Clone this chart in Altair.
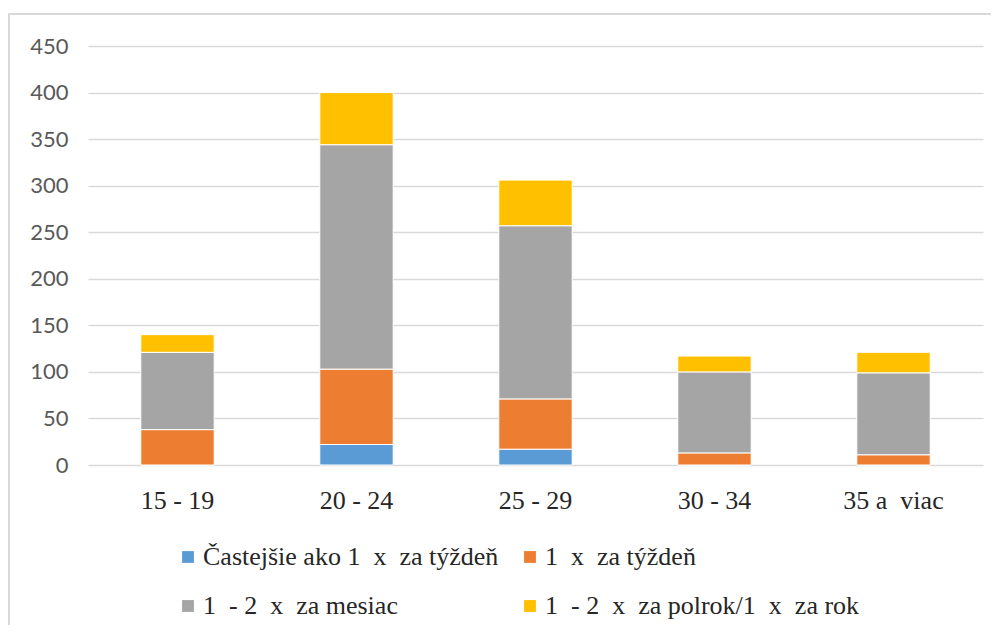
import altair as alt
import pandas as pd

NB = "\u00a0"
categories = ["15 - 19", "20 - 24", "25 - 29", "30 - 34", "35 a" + NB + " viac"]
series = ["Častejšie ako 1" + NB + " x" + NB + " za týždeň",
          "1" + NB + " x" + NB + " za týždeň",
          "1" + NB + " - 2" + NB + " x" + NB + " za mesiac",
          "1" + NB + " - 2" + NB + " x" + NB + " za polrok/1" + NB + " x" + NB + " za rok"]
colors = ["#5B9BD5", "#ED7D31", "#A5A5A5", "#FFC000"]
blue = [0, 22, 17, 0, 0]
orange = [38, 81, 54, 13, 11]
gray = [83, 241, 186, 87, 88]
yellow = [19, 56, 49, 17, 22]
y_ticks = [0, 50, 100, 150, 200, 250, 300, 350, 400, 450]

rows = []
for si, (name, vals) in enumerate(zip(series, [blue, orange, gray, yellow])):
    for c, v in zip(categories, vals):
        rows.append({"cat": c, "series": name, "value": v, "idx": si})
df = pd.DataFrame(rows)

bars = alt.Chart(df).mark_bar(stroke="white", strokeWidth=1).encode(
    x=alt.X("cat:N", sort=categories, title=None,
            scale=alt.Scale(paddingInner=0.59, paddingOuter=0.295),
            axis=alt.Axis(labelAngle=0, labelFont="Liberation Serif", labelFontSize=26,
                          labelColor="#262626", labelPadding=22, ticks=False, domain=False, grid=False)),
    y=alt.Y("value:Q", stack="zero", title=None,
            scale=alt.Scale(domain=[0, 450], nice=False),
            axis=alt.Axis(values=y_ticks, labelFont="Lato", labelFontSize=22, labelColor="#595959",
                          labelPadding=20, ticks=False, domain=False, grid=True,
                          gridColor="#d9d9d9", gridWidth=1.5)),
    color=alt.Color("series:N", sort=series,
                    scale=alt.Scale(domain=series, range=colors),
                    legend=alt.Legend(title=None, orient="none", legendX=87, legendY=498,
                                      columns=2, direction="horizontal", symbolType="square",
                                      symbolSize=140, symbolStrokeWidth=0, labelFont="Liberation Serif",
                                      labelFontSize=26, labelColor="#262626", labelLimit=500,
                                      rowPadding=23, columnPadding=18, labelOffset=2)),
    order=alt.Order("idx:Q", sort="ascending"),
)

border = alt.Chart(alt.Data(values=[{}])).mark_rect(
    filled=False, stroke="#d9d9d9", strokeWidth=2
).encode(x=alt.value(-79), x2=alt.value(960), y=alt.value(-32), y2=alt.value(640))

chart = alt.layer(border, bars).properties(
    width=895, height=419,
    autosize=alt.AutoSizeParams(type="none"),
    padding={"left": 80, "top": 38, "right": 8, "bottom": 160},
).configure_view(stroke=None)

chart.save("out.html", embed_options={"renderer": "svg", "actions": False})
